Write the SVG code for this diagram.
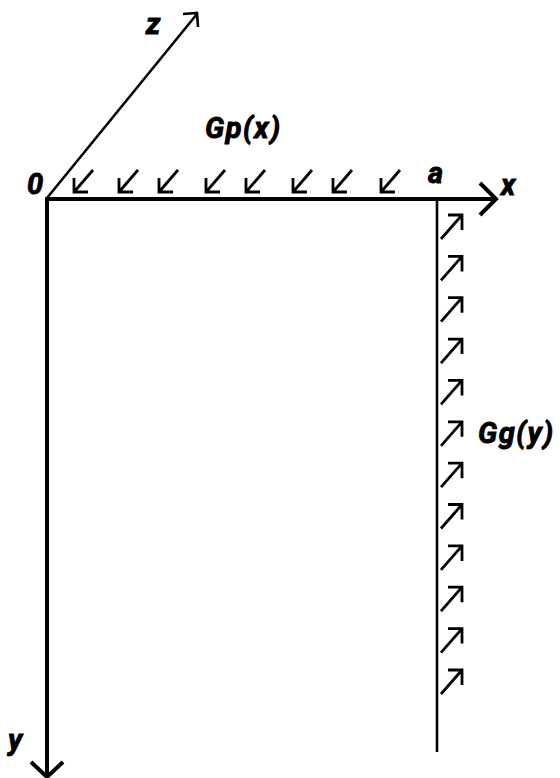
<svg xmlns="http://www.w3.org/2000/svg" width="560" height="778" viewBox="0 0 560 778">
<style>
.lbl{font-family:Roboto,"Liberation Sans",sans-serif;font-weight:bold;font-style:italic;font-size:29px;fill:#000;stroke:#000;stroke-width:0.9;letter-spacing:1.5px}
.ax{stroke:#000;fill:none;stroke-linecap:butt;stroke-linejoin:miter}
.ar{stroke:#000;fill:none;stroke-width:2.8;stroke-linecap:butt;stroke-linejoin:miter}
</style>
<defs>
<path id="dl" class="ar" d="M19,-22 L0,0 M0,-14 L0,0 L14,0"/>
<path id="ur" class="ar" d="M0,24 L21,0 M7,0 L21,0 L21,15"/>
</defs>
<rect width="560" height="778" fill="#fff"/>
<g id="connectors">
<path id="x-axis" class="ax" stroke-width="4" d="M45,199 L496,199 M480,183 L496,199 L480,215"/>
<path id="y-axis" class="ax" stroke-width="4" d="M47,197 L47,776 M31,762 L47,777 L63,762"/>
<path id="z-axis" class="ax" stroke-width="2.6" d="M47,198 L197,14 M183,14 L197,13 L198,27"/>
<path id="edge-a" class="ax" stroke-width="2.6" d="M437,199 L437,752"/>
</g>
<g id="gp-arrows">
<use href="#dl" x="74" y="192"/>
<use href="#dl" x="119" y="192"/>
<use href="#dl" x="159" y="192"/>
<use href="#dl" x="206" y="192"/>
<use href="#dl" x="246" y="192"/>
<use href="#dl" x="293" y="192"/>
<use href="#dl" x="333" y="192"/>
<use href="#dl" x="381" y="192"/>
</g>
<g id="gg-arrows">
<use href="#ur" x="441" y="215"/>
<use href="#ur" x="441" y="256.4"/>
<use href="#ur" x="441" y="297.7"/>
<use href="#ur" x="441" y="339.1"/>
<use href="#ur" x="441" y="380.4"/>
<use href="#ur" x="441" y="421.8"/>
<use href="#ur" x="441" y="463.2"/>
<use href="#ur" x="441" y="504.5"/>
<use href="#ur" x="441" y="545.9"/>
<use href="#ur" x="441" y="587.2"/>
<use href="#ur" x="441" y="628.6"/>
<use href="#ur" x="441" y="670"/>
</g>
<g id="labels">
<text class="lbl" x="146" y="34">z</text>
<text class="lbl" x="27" y="194">0</text>
<text class="lbl" x="428" y="183">a</text>
<text class="lbl" x="501" y="195">x</text>
<text class="lbl" x="8" y="750">y</text>
<text class="lbl" x="205" y="138">Gp(x)</text>
<text class="lbl" x="478" y="443">Gg(y)</text>
</g>
</svg>
